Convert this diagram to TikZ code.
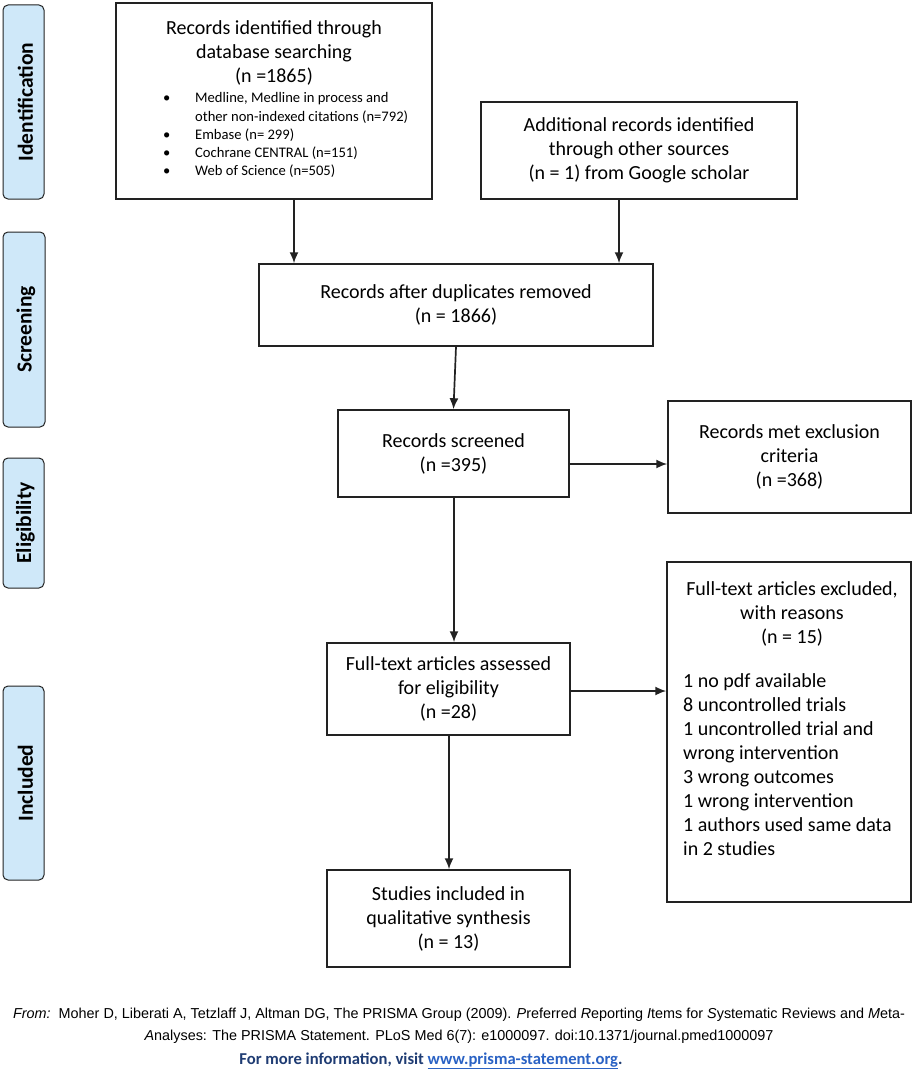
\documentclass[tikz,border=0pt]{standalone}
\usepackage{fontspec}
\setmainfont{Carlito}
\newfontfamily\arialf{Liberation Sans}
\usetikzlibrary{arrows.meta}
\definecolor{sidefill}{HTML}{CFE8F9}
\definecolor{lineclr}{HTML}{222222}
\definecolor{footblue}{HTML}{1F3C73}
\definecolor{linkblue}{HTML}{2A62C4}
\begin{document}
\begin{tikzpicture}[x=1pt,y=-1pt,
  box/.style={draw=lineclr, line width=1.5pt, inner sep=0pt, align=center,
    font=\fontsize{20}{24}\selectfont},
  plain/.style={inner sep=0pt, align=center, font=\fontsize{20}{24}\selectfont},
  side/.style={draw=lineclr, fill=sidefill, line width=1pt, rounded corners=5pt, inner sep=0pt},
  sidetext/.style={rotate=90, inner sep=0pt, font=\fontsize{21.5}{22}\selectfont\bfseries},
  arr/.style={draw=lineclr, line width=1.7pt, -{Latex[length=11pt,width=9pt]}},
  foot/.style={inner sep=0pt, font=\arialf\fontsize{14.4}{16}\selectfont},
]
\path[use as bounding box] (0,0) rectangle (913,1070);

% side labels
\node[side, minimum width=41pt, minimum height=194pt] (sid) at (23.5,102) {};
\node[sidetext] (sidt) at ([xshift=2pt]sid.center) {Identification};
\node[side, minimum width=42pt, minimum height=195pt] (sscr) at (24,329.5) {};
\node[sidetext] (sscrt) at ([xshift=2pt]sscr.center) {Screening};
\node[side, minimum width=41pt, minimum height=130pt] (sel) at (23.5,523) {};
\node[sidetext] (selt) at ([xshift=2pt]sel.center) {Eligibility};
\node[side, minimum width=41pt, minimum height=194pt] (sinc) at (23.5,783) {};
\node[sidetext] (sinct) at ([xshift=2pt]sinc.center) {Included};

% boxes
\node[box, minimum width=316pt, minimum height=196pt] (db) at (274,101) {};
\node[plain, anchor=center] (dbt) at (274,53) {Records identified through\\database searching\\(n =1865)};
\node[inner sep=0pt, align=left, anchor=north west, font=\fontsize{14.6}{18.2}\selectfont] (dbl) at (163,92.5)
 {\makebox[32pt][l]{\textbullet}Medline, Medline in process and\\
  \hspace*{32pt}other non-indexed citations (n=792)\\
  \makebox[32pt][l]{\textbullet}Embase (n= 299)\\
  \makebox[32pt][l]{\textbullet}Cochrane CENTRAL (n=151)\\
  \makebox[32pt][l]{\textbullet}Web of Science (n=505)};

\node[box, minimum width=316pt, minimum height=97pt] (add) at (639,150.5)
 {Additional records identified\\through other sources\\(n = 1) from Google scholar};

\node[box, minimum width=394pt, minimum height=82pt] (dup) at (456,305)
 {Records after duplicates removed\\(n = 1866)};

\node[box, minimum width=231pt, minimum height=87pt] (scr) at (453.5,453.5)
 {Records screened\\(n =395)};

\node[box, minimum width=243pt, minimum height=112pt] (exc) at (789.5,457)
 {Records met exclusion\\criteria\\(n =368)};

\node[box, minimum width=243pt, minimum height=92pt] (ass) at (448.5,689)
 {Full-text articles assessed\\for eligibility\\(n =28)};

\node[box, minimum width=244pt, minimum height=340pt] (ftx) at (789,732) {};
\node[plain, anchor=center] (ftxh) at (792,614) {Full-text articles excluded,\\with reasons\\(n = 15)};
\node[inner sep=0pt, align=left, anchor=north west, font=\fontsize{20}{24}\selectfont] (ftxl) at (683,673)
 {1 no pdf available\\
  8 uncontrolled trials\\
  1 uncontrolled trial and\\
  wrong intervention\\
  3 wrong outcomes\\
  1 wrong intervention\\
  1 authors used same data\\
  in 2 studies};

\node[box, minimum width=243pt, minimum height=97pt] (stu) at (448.5,918.5)
 {Studies included in\\qualitative synthesis\\(n = 13)};

% connectors
\draw[arr] ([xshift=20pt]db.south) -- ([xshift=20pt]db.south |- dup.north);
\draw[arr] ([xshift=-20pt]add.south) -- ([xshift=-20pt]add.south |- dup.north);
\draw[arr] (dup.south) -- (scr.north);
\draw[arr] ([yshift=-10.5pt]scr.east) -- ([yshift=-10.5pt]scr.east -| exc.west);
\draw[arr] ([xshift=0.5pt]scr.south) -- ([xshift=0.5pt]scr.south |- ass.north);
\draw[arr] ([yshift=-2pt]ass.east) -- ([yshift=-2pt]ass.east -| ftx.west);
\draw[arr] ([xshift=0.5pt]ass.south) -- ([xshift=0.5pt]ass.south |- stu.north);

% footer
\node[foot] (f1) at (459,1015) {\textit{From:}\ \ Moher D, Liberati A, Tetzlaff J, Altman DG, The PRISMA Group (2009). \textit{P}referred \textit{R}eporting \textit{I}tems for \textit{S}ystematic Reviews and \textit{M}eta-};
\node[foot] (f2) at (459,1037) {\textit{A}nalyses: The PRISMA Statement. PLoS Med 6(7): e1000097. doi:10.1371/journal.pmed1000097};
\node[inner sep=0pt, font=\fontsize{16.6}{18}\selectfont\bfseries, text=footblue] (f3) at (431,1061)
 {For more information, visit \textcolor{linkblue}{\underline{www.prisma-statement.org}}.};
\end{tikzpicture}
\end{document}
